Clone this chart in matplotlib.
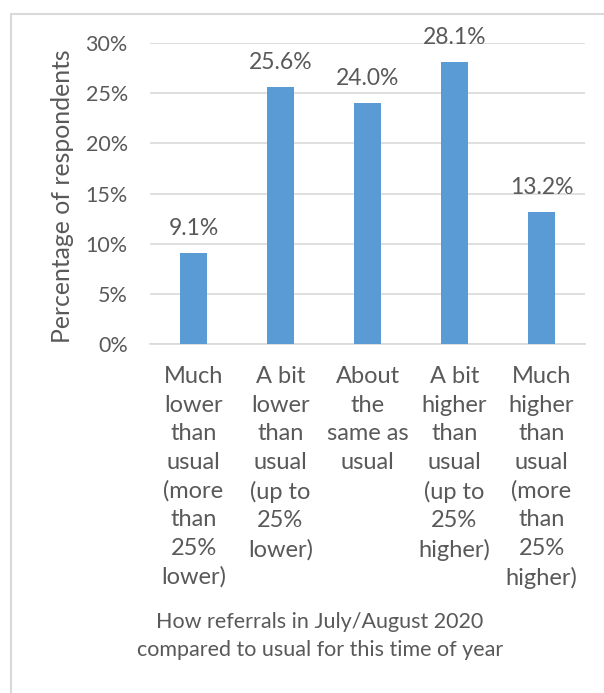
import matplotlib.pyplot as plt
from matplotlib.patches import Rectangle
from matplotlib.ticker import FuncFormatter

# Data
categories = [
    "Much\nlower\nthan\nusual\n(more\nthan\n25%\nlower)",
    "A bit\nlower\nthan\nusual\n(up to\n25%\nlower)",
    "About\nthe\nsame as\nusual",
    "A bit\nhigher\nthan\nusual\n(up to\n25%\nhigher)",
    "Much\nhigher\nthan\nusual\n(more\nthan\n25%\nhigher)",
]
values = [9.1, 25.6, 24.0, 28.1, 13.2]
y_ticks = [0, 5, 10, 15, 20, 25, 30]

BAR_COLOR = "#5B9BD5"
TEXT_COLOR = "#595959"
GRID_COLOR = "#D9D9D9"
FONT = "Lato"

plt.rcParams['font.family'] = [FONT, 'DejaVu Sans']

fig = plt.figure(figsize=(6.04, 6.93), dpi=100)
W, H = 604, 693

# chart border (Excel-style frame)
fig.patches.append(Rectangle((11 / W, -0.01), 1.0, 1 - 14 / H + 0.01,
                             transform=fig.transFigure, fill=False,
                             edgecolor="#D9D9D9", linewidth=1.5))

ax = fig.add_axes([150 / W, 1 - 344 / H, (585 - 150) / W, (344 - 43) / H])

x = range(len(values))
bars = ax.bar(x, values, width=0.31, color=BAR_COLOR, zorder=3)

for b, v in zip(bars, values):
    ax.annotate(f"{v:.1f}%", (b.get_x() + b.get_width() / 2, v),
                xytext=(0, 10), textcoords="offset points",
                ha="center", va="bottom", fontsize=16.5, color=TEXT_COLOR)

ax.set_xlim(-0.5, len(values) - 0.5)
ax.set_ylim(0, 30)
ax.set_yticks(y_ticks)
ax.yaxis.set_major_formatter(FuncFormatter(lambda v, p: f"{v:.0f}%"))
ax.grid(axis="y", color=GRID_COLOR, linewidth=1.2, zorder=0)
ax.set_xticks(list(x))
ax.set_xticklabels(categories, fontsize=17, color=TEXT_COLOR, linespacing=1.44)
ax.tick_params(axis="y", length=0, labelsize=15.5, colors=TEXT_COLOR, pad=16)
ax.tick_params(axis="x", length=0, colors=TEXT_COLOR, pad=16)
for s in ["top", "right", "left"]:
    ax.spines[s].set_visible(False)
ax.spines["bottom"].set_color(GRID_COLOR)
ax.spines["bottom"].set_linewidth(1.2)

ax.set_ylabel("Percentage of respondents", fontsize=17.8, color=TEXT_COLOR)
ax.yaxis.set_label_coords(-0.175, 0.49)
fig.text(320 / W, 1 - 636 / H,
         "How referrals in July/August 2020\ncompared to usual for this time of year",
         ha="center", va="center", fontsize=15.5, color=TEXT_COLOR, linespacing=1.5)

fig.savefig("out.png", dpi=100)
